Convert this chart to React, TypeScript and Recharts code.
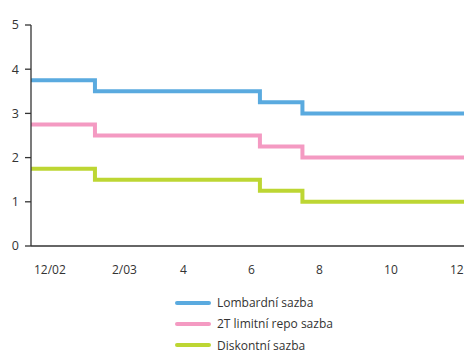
import React from 'react';
import { LineChart, Line, XAxis, YAxis, Legend } from 'recharts';

// x values: months since 1 Dec 2002 (change dates of CNB rates)
const monthT = [0.12, 2.0, 6.85, 8.1, 12.85];
const lombard = [3.75, 3.5, 3.25, 3.0, 3.0];
const repo = [2.75, 2.5, 2.25, 2.0, 2.0];
const discount = [1.75, 1.5, 1.25, 1.0, 1.0];
const tickMonths = [0, 2, 4, 6, 8, 10, 12];
const tickLabels = ['12/02', '2/03', '4', '6', '8', '10', '12'];
const yTicks = [0, 1, 2, 3, 4, 5];
const seriesNames = ['Lombardní sazba', '2T limitní repo sazba', 'Diskontní sazba'];
const seriesColors = ['#5aaadf', '#f49ac2', '#bdd633'];

const data = monthT.map((t, i) => ({
  t,
  lombard: lombard[i],
  repo: repo[i],
  discount: discount[i],
}));

const FONT = '"Open Sans", sans-serif';

const XTick = (props: any) => {
  const { x, y, payload, index } = props;
  const i = tickMonths.indexOf(payload.value - 0.5);
  const first = index === 0;
  return (
    <text
      x={first ? x + 6 : x}
      y={y}
      dy="0.71em"
      textAnchor={first ? 'middle' : 'start'}
      fontFamily={FONT}
      fontSize={12}
      fill="#333"
    >
      {tickLabels[i]}
    </text>
  );
};

const LegendContent = () => (
  <div style={{ fontFamily: FONT, fontSize: 12, color: '#333' }}>
    {seriesNames.map((n, i) => (
      <div key={n} style={{ display: 'flex', alignItems: 'center', height: 21.3 }}>
        <span
          style={{
            display: 'inline-block',
            width: 36,
            height: 4,
            borderRadius: 2,
            background: seriesColors[i],
            marginRight: 6,
          }}
        />
        <span>{n}</span>
      </div>
    ))}
  </div>
);

export default function App() {
  return (
    <div style={{ position: 'absolute', left: 0, top: 0, width: 464, height: 352, overflow: 'hidden', background: '#fff' }}>
      <div
        style={{
          position: 'absolute',
          left: 11,
          top: -12,
          fontFamily: FONT,
          fontSize: 12,
          lineHeight: '12px',
          color: '#333',
          zIndex: 2,
        }}
      >
        (v %)
      </div>
      <LineChart width={464} height={352} data={data} margin={{ top: 25, right: 0, bottom: 0, left: 0 }}>
        <XAxis
          dataKey="t"
          type="number"
          domain={[monthT[0], monthT[monthT.length - 1]]}
          ticks={tickMonths.map((m) => m + 0.5)}
          tick={<XTick />}
          tickLine={false}
          tickSize={8}
          tickMargin={11}
          height={106}
          axisLine={{ stroke: '#333', strokeWidth: 1.3 }}
          allowDataOverflow
        />
        <YAxis
          type="number"
          domain={[0, 5]}
          ticks={yTicks}
          width={31}
          tickSize={6}
          tickMargin={6}
          axisLine={{ stroke: '#333', strokeWidth: 1.3 }}
          tickLine={{ stroke: '#333', strokeWidth: 1.3 }}
          tick={{ fontFamily: FONT, fontSize: 12.5, fill: '#333' }}
        />
        <Line type="stepAfter" dataKey="lombard" name={seriesNames[0]} stroke={seriesColors[0]} strokeWidth={4} dot={false} isAnimationActive={false} />
        <Line type="stepAfter" dataKey="repo" name={seriesNames[1]} stroke={seriesColors[1]} strokeWidth={4} dot={false} isAnimationActive={false} />
        <Line type="stepAfter" dataKey="discount" name={seriesNames[2]} stroke={seriesColors[2]} strokeWidth={4} dot={false} isAnimationActive={false} />
        <Legend
          layout="vertical"
          align="center"
          verticalAlign="middle"
          content={<LegendContent />}
          wrapperStyle={{ position: 'absolute', left: 175, top: 292, width: 'auto' }}
        />
      </LineChart>
    </div>
  );
}
